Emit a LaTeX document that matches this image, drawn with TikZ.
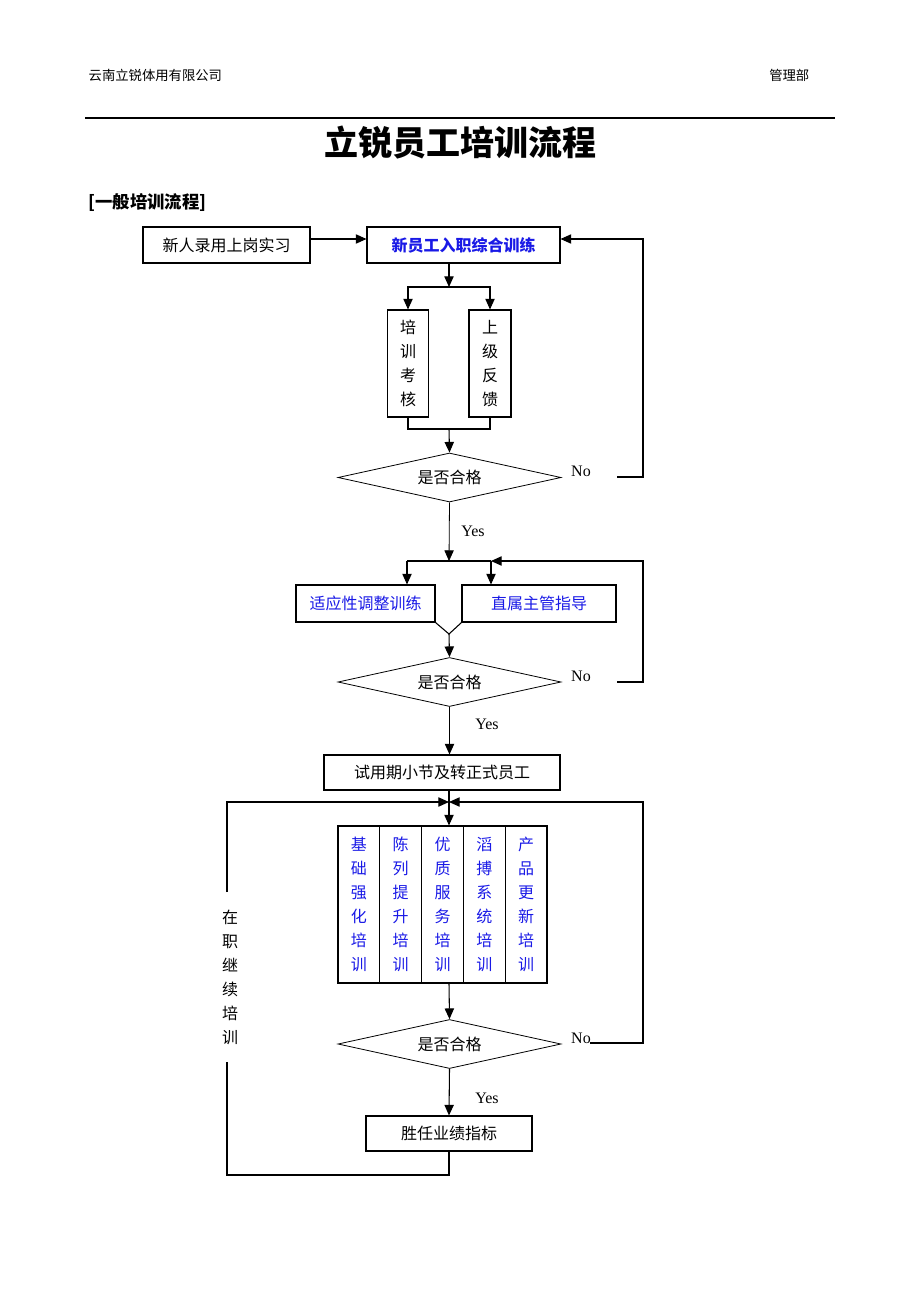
\documentclass[tikz,border=0pt]{standalone}
\usepackage{fontspec}
\setmainfont{Liberation Serif}
\newfontfamily\cjk{Noto Sans CJK SC}
\usetikzlibrary{shapes.geometric, positioning, arrows.meta}
\definecolor{txtblue}{RGB}{25,25,230}

\tikzset{
  box/.style={draw, line width=0.8pt, inner sep=0pt, font=\cjk\fontsize{12}{18}\selectfont},
  vbox/.style={box, align=center},
  decide/.style={draw, diamond, aspect=4.5, line width=0.6pt, inner sep=0pt,
    minimum width=167.25pt, minimum height=36.75pt, font=\cjk\fontsize{12}{14}\selectfont},
  line/.style={line width=0.8pt},
  arr/.style={line, -{Triangle[length=8pt,width=7pt]}},
  ans/.style={font=\fontsize{12}{14}\selectfont}
}

\begin{document}
\begin{tikzpicture}[x=0.75pt, y=-0.75pt]
    \useasboundingbox (0,0) rectangle (920,1302);

    % header
    \node[font=\cjk\fontsize{10}{12}\selectfont, anchor=west] (corp) at (84,75) {云南立锐体用有限公司};
    \node[font=\cjk\fontsize{10}{12}\selectfont, anchor=east] (dept) at (814,75) {管理部};
    \draw[line width=1pt] (85,118) -- (835,118);
    \node[font=\cjk\bfseries\fontsize{25.5}{28}\selectfont] (title) at (460,143) {立锐员工培训流程};
    \node[font=\cjk\bfseries\fontsize{13}{15}\selectfont, anchor=west] (sec) at (84,203) {[一般培训流程]};

    % new staff
    \node[box, minimum width=125.25pt, minimum height=27pt] (intern) at (226.5,245) {新人录用上岗实习};
    \node[box, minimum width=144.75pt, minimum height=27pt, text=txtblue,
        font=\cjk\bfseries\fontsize{12}{14}\selectfont] (induct) at (463.5,245) {新员工入职综合训练};
    \node[vbox, minimum width=30.75pt, minimum height=80.25pt] (exam) at (408,363.5) {培\\训\\考\\核};
    \node[vbox, minimum width=31.5pt, minimum height=80.25pt] (report) at (490,363.5) {上\\级\\反\\馈};
    \node[decide] (d1) at (449.5,477.5) {是否合格};

    \coordinate (r1) at (643,239);
    \coordinate (r1s) at (617,477);
    \coordinate (j1) at (449,287);
    \coordinate (j2) at (449,429);

    \draw[arr] (intern.east |- r1) -- (induct.west |- r1);
    \draw[arr] (induct.south -| j1) -- (j1);
    \draw[arr] (j1) -| (exam.north);
    \draw[arr] (j1) -| (report.north);
    \draw[line] (exam.south) |- (j2) -| (report.south);
    \draw[arr] (j2) -- (d1.north);
    \draw[arr] (r1s) -| (r1) -- (induct.east |- r1);
    \node[ans] (no1) at (581,471) {No};

    % adaptation
    \node[box, minimum width=104.25pt, minimum height=27.75pt, text=txtblue] (adapt) at (365.5,603.5) {适应性调整训练};
    \node[box, minimum width=115.5pt, minimum height=27.75pt, text=txtblue] (guide) at (539,603.5) {直属主管指导};
    \node[decide] (d2) at (449.5,682) {是否合格};

    \coordinate (j3) at (449,561);
    \coordinate (ja) at (407,561);
    \coordinate (jb) at (491,561);
    \coordinate (j4) at (449,634);
    \coordinate (r2) at (643,561);
    \coordinate (r2s) at (617,682);

    \draw[arr, line width=0.6pt] (d1.south) -- (j3);
    \node[ans] (yes1) at (473,531) {Yes};
    \draw[line] (ja) -- (jb);
    \draw[arr] (ja) -- (ja |- adapt.north);
    \draw[arr] (jb) -- (jb |- guide.north);
    \draw[line] (adapt.south east) -- (j4) -- (guide.south west);
    \draw[arr] (j4) -- (d2.north);
    \draw[arr] (r2s) -| (r2) -- (jb);
    \node[ans] (no2) at (581,676) {No};

    % on the job
    \node[box, minimum width=177pt, minimum height=26.25pt] (trial) at (442,772.5) {试用期小节及转正式员工};
    \draw[arr] (d2.south) -- (d2.south |- trial.north);
    \node[ans] (yes2) at (487,724) {Yes};

    \foreach \i/\x/\t in {1/358.9/{基\\础\\强\\化\\培\\训}, 2/400.7/{陈\\列\\提\\升\\培\\训},
        3/442.5/{优\\质\\服\\务\\培\\训}, 4/484.3/{滔\\搏\\系\\统\\培\\训}, 5/526.1/{产\\品\\更\\新\\培\\训}} {
        \node[vbox, minimum width=31.35pt, minimum height=117.75pt, text=txtblue] (c\i) at (\x,904.5) {\t};
    }

    \node[decide] (d3) at (449.5,1044) {是否合格};
    \node[box, minimum width=124.5pt, minimum height=26.25pt] (post) at (449,1133.5) {胜任业绩指标};
    \node[font=\cjk\fontsize{12}{18}\selectfont, align=center, inner ysep=13pt] (onjob) at (230,977) {在\\职\\继\\续\\培\\训};

    \coordinate (j5) at (449,802);
    \coordinate (lb) at (227,1175);
    \coordinate (r3) at (643,802);
    \coordinate (r3s) at (590,1043);

    \draw[arr] (trial.south -| j5) -- (j5 |- c3.north);
    \draw[arr] (j5 |- c3.south) -- (d3.north);
    \draw[arr] (d3.south) -- (post.north);
    \node[ans] (yes3) at (487,1098) {Yes};
    \draw[line] (post.south) |- (lb) -- (lb |- onjob.south);
    \draw[arr] (lb |- onjob.north) |- (j5);
    \draw[arr] (r3s) -| (r3) -- (j5);
    \node[ans] (no3) at (581,1038) {No};
\end{tikzpicture}
\end{document}
